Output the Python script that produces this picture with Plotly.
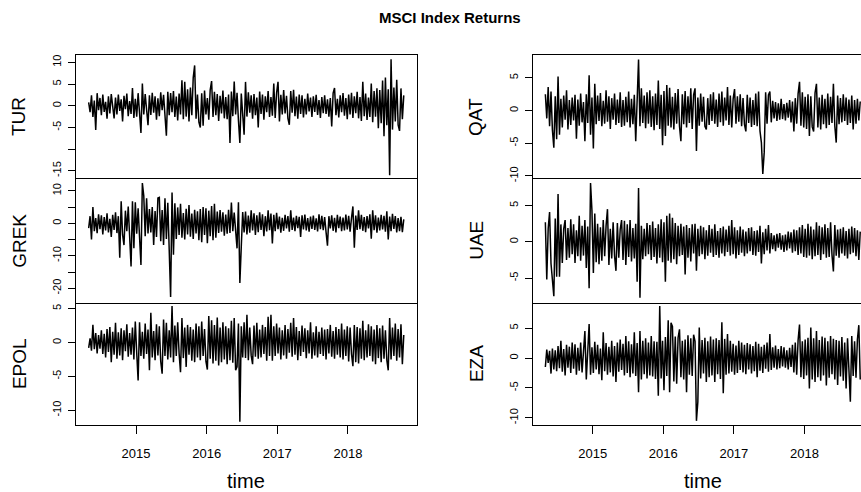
import numpy as np
import plotly.graph_objects as go

# ---- time index (ts-like: start year, samples per year) ----
START = 2014.33
FREQ = 50

TUR = [0.8, -1.5, 2.4, -2.6, 1.2, -5.6, 2.9, -1.0, 1.8, -2.2,
       2.6, -1.4, 0.9, -3.0, 2.2, -1.8, 2.7, -0.6, -2.9, 1.9,
       -2.0, 2.6, -1.2, 1.5, -3.6, 2.3, -0.8, 2.8, -2.4, 1.1,
       -1.9, 4.1, -2.8, 1.6, -2.5, 2.9, -1.1, -6.3, 5.1, -2.0,
       2.7, -1.3, -4.5, 2.4, -2.1, 3.0, -1.6, 2.2, -3.2, 1.7,
       -2.4, 3.1, -1.0, 2.5, -2.8, -6.9, 3.2, -2.2, 2.9, -1.5,
       3.4, -2.6, 2.1, -3.4, 2.8, -2.0, 5.9, -3.1, 5.5, -2.5,
       3.8, -3.6, 4.2, -2.2, 6.5, 9.3, -3.0, 2.6, -3.8, -5.0,
       2.9, -4.6, 3.5, -2.0, 1.8, -3.2, 3.6, 5.7, -2.6, 3.2,
       -2.2, 2.7, -3.5, 2.3, -1.8, 3.5, -2.9, 2.0, -3.1, 2.6,
       -8.6, 3.3, -2.4, 5.6, -2.0, 3.0, -3.4, -8.6, 2.8, -2.1,
       -6.7, 5.5, -2.5, 3.1, -1.6, 2.4, -3.0, 2.7, -2.2, 1.9,
       -5.0, 3.3, -1.9, 2.6, -3.2, 2.2, -1.5, 3.4, -2.6, 2.0,
       -2.3, 5.1, -2.8, 3.0, 5.5, -3.6, 2.5, -2.0, 3.6, -1.8,
       2.3, -2.9, -4.4, 3.4, -1.6, 3.7, -2.4, 2.1, -3.0, 2.6,
       -1.9, 2.4, -2.7, 1.6, -2.0, 2.8, -1.3, 1.9, -2.6, 2.2,
       -1.4, 2.5, -2.1, 1.3, -2.8, 2.0, -1.7, 2.4, -1.9, 1.5,
       -2.5, 1.8, -4.8, 2.9, 4.1, -2.2, 1.6, -2.7, 2.4, -1.5,
       2.9, -2.3, 1.8, -3.1, 2.6, -2.0, 3.0, -2.8, 2.2, -1.7,
       3.2, -2.9, 2.0, -3.5, 5.5, -2.4, 2.8, -3.3, 1.9, -2.6,
       5.1, -3.8, 3.4, -2.5, 4.0, -5.2, 3.6, -4.0, 5.8, -7.0,
       6.5, -4.5, 3.8, -16.0, 10.7, -5.5, 4.2, -3.6, 6.0, -4.4,
       -5.8, 4.0, -3.1, 2.4]

GREK = [-1.5, 2.2, -5.0, 5.0, -2.4, 1.6, -3.0, 2.8, -1.8, 2.5,
        -3.4, 1.9, -2.2, 3.1, -2.8, 1.4, -4.2, 2.6, -2.0, 3.4,
        -3.0, 2.2, -10.6, 6.8, -3.5, -6.7, 3.9, -2.4, 5.2, -4.6,
        -13.3, 6.8, -7.7, 6.5, -3.2, 4.6, -5.0, -12.8, 12.4, 8.5,
        -4.0, 7.7, -3.1, 4.4, -2.8, 5.0, -6.7, 3.8, -4.2, 7.8,
        8.0, -5.5, 4.1, -6.7, 7.7, -4.8, 6.3, -12.3, -22.7, 9.5,
        -9.7, 6.2, -4.8, 4.9, -3.6, 6.0, -4.4, 3.2, -5.0, 4.5,
        -3.4, 5.6, -4.1, 3.0, -4.8, 4.2, -3.1, 3.7, -5.2, 4.4,
        -5.8, 5.0, -3.6, 4.6, -6.1, 3.9, -4.0, 5.3, -5.2, 6.0,
        -4.4, 3.6, -3.0, 4.1, -2.6, 3.4, -3.8, 2.7, -3.2, 4.2,
        -3.0, 6.4, -2.4, 3.3, -4.1, -7.7, 6.5, -18.4, -7.2, 3.5,
        -2.8, 3.6, -3.4, 2.4, -2.9, 4.0, -2.2, 3.1, -3.6, 2.5,
        -2.7, 3.4, -2.0, 2.8, -4.0, 2.2, -2.5, 4.0, -2.1, 3.0,
        -6.2, 2.6, -2.4, 3.2, -1.8, 2.1, -2.9, 1.7, -2.3, 2.6,
        -1.6, 2.2, -2.6, 4.0, -2.0, 1.8, -2.4, 2.3, -1.5, 2.0,
        -4.2, 2.5, -1.9, 2.7, -2.2, 1.6, -2.6, 2.1, -1.7, 2.4,
        -2.0, 1.5, -2.5, 2.8, -1.8, 2.3, -2.1, 1.9, -2.7, -6.9,
        2.2, -1.6, 2.5, -2.3, 1.7, -2.8, 2.6, -1.5, 2.1, -2.4,
        1.8, -2.2, 2.7, -1.9, 2.3, -2.6, 1.6, 5.2, -7.5, 2.4,
        -2.0, 4.0, -1.8, 2.6, -2.3, 1.9, -2.7, 2.2, -1.6, 2.8,
        -4.7, 4.0, -2.1, 2.5, -2.9, 1.8, -2.2, 2.6, -1.9, 2.3,
        -2.6, 3.7, -5.0, 2.1, -2.4, 2.9, -1.7, 2.2, -2.8, 1.6,
        -2.4, 2.0, -2.7, 1.2]

EPOL = [-0.8, 0.6, -1.2, 2.6, -1.0, 1.4, -1.6, 1.1, -0.9, 1.8,
        -1.7, 1.3, -2.2, 2.0, -1.4, 2.3, -2.9, 1.6, -1.8, 2.9,
        -2.4, 1.5, -1.9, 2.1, -2.6, 1.8, -1.3, 2.7, -2.1, 1.4,
        -1.8, 2.2, -2.5, 3.1, -1.5, -5.6, 3.0, -2.0, 1.6, -2.4,
        2.8, -1.7, 1.9, -4.1, 4.4, -2.2, 1.7, -2.6, 2.7, -1.9,
        2.4, -2.8, -4.6, 3.4, -2.0, 2.9, -2.5, 1.8, -2.2, 5.4,
        -2.9, 2.5, -2.0, 3.0, -1.6, -4.4, 3.6, -2.3, 2.2, -3.6,
        2.6, -1.8, 2.3, -2.7, 1.9, -2.9, 2.8, -2.2, 2.4, -2.6,
        3.1, -2.0, 2.0, -2.8, -4.0, 3.9, -2.4, 3.3, -3.1, 2.6,
        -2.7, 3.7, -3.4, 2.2, -2.9, 3.0, -2.5, 2.4, -3.2, 2.1,
        -2.6, 3.2, -3.0, 3.6, -4.1, -3.6, 2.8, -11.7, 2.4, -2.2,
        3.0, -2.3, 4.1, -2.6, 2.2, -1.9, -3.2, 2.5, -2.1, 2.9,
        -2.4, 1.9, -2.2, 2.6, -1.7, 2.3, -2.7, 3.8, -2.0, 4.1,
        -2.7, 2.4, -2.0, 2.8, -1.6, 2.2, -2.5, 1.8, -1.9, 2.6,
        -2.4, 2.0, -1.5, 2.9, -2.1, 3.6, -1.8, 2.3, -2.6, 1.7,
        -2.0, 2.5, -1.4, 2.1, -2.3, 1.8, -1.6, 3.0, -2.4, 1.5,
        -1.9, 2.4, -2.2, 1.6, -1.7, 2.2, -2.0, 1.9, -2.5, 2.0,
        -1.6, 2.6, -2.1, 1.7, -2.4, 2.3, -1.8, 2.0, -2.2, 2.8,
        -2.5, 1.9, -2.0, 2.4, -2.8, 2.2, -1.7, -3.5, 2.6, -2.9,
        2.3, -3.1, 2.1, -2.4, 3.2, -2.6, 1.8, -2.2, 2.7, -2.0,
        2.4, -2.8, 1.9, -3.2, 2.6, -2.3, 2.1, -2.9, 2.5, -2.4,
        1.8, -2.6, -4.1, 3.6, -2.5, 2.2, -2.0, 2.8, -2.7, 2.0,
        -2.2, 2.7, -3.2, 1.1]

QAT = [2.5, -1.2, 3.6, -2.4, 2.9, -3.0, -5.7, 2.2, -4.4, 5.2,
       -3.7, 1.8, -2.6, 2.3, -1.4, 3.1, -2.9, 1.6, -2.2, 2.0,
       -1.5, 2.4, -4.3, 1.7, -2.3, 2.6, -1.8, 1.3, -4.7, 2.5,
       -1.9, 5.4, -3.7, 2.0, -5.8, 4.1, -2.1, 2.3, -1.6, 2.7,
       -2.4, 1.5, -2.0, 3.1, -1.7, 2.2, -2.8, 1.9, -1.4, 2.6,
       -2.2, 1.7, -1.9, 2.8, -2.5, 1.6, -2.3, 2.1, -1.8, 2.9,
       -2.6, 1.8, -2.1, 2.4, -4.7, 1.5, 7.8, -2.4, 3.4, -1.9,
       2.3, -2.7, 2.8, -2.0, 3.1, -2.5, 2.2, -3.0, 2.6, -2.2,
       4.6, -2.8, 2.4, -5.3, 3.0, -3.9, 3.9, -2.3, 3.5, -2.6,
       2.1, -2.9, 2.7, -2.0, 3.3, -2.4, -4.7, 2.5, -2.1, 3.0,
       -2.6, 2.2, -1.9, 3.4, -2.8, 2.4, 3.4, -6.2, 2.0, -2.3,
       2.6, -1.7, 2.1, -2.4, -2.9, 1.9, -2.2, 2.5, -1.6, 2.8,
       -2.0, 1.7, -2.5, 2.6, -1.8, 2.9, -2.3, 2.0, -1.5, 3.6,
       -2.2, 2.3, -2.6, 1.8, 3.3, -2.0, 2.2, -1.7, 2.5, -2.4,
       1.9, -2.1, -3.2, 2.4, -1.9, 2.0, -2.5, 1.6, -2.2, 2.6,
       -2.4, 2.9, -3.1, -4.9, -9.7, -6.4, 2.8, -2.0, 2.4, 2.9,
       -1.8, 1.5, -1.2, 1.3, -1.6, 1.1, -1.4, 1.8, -1.3, 1.0,
       -1.5, 1.2, -1.1, 1.6, -1.8, 1.4, -3.2, 1.9, -2.0, 2.6,
       4.4, -2.3, 2.8, -2.6, 2.1, -2.8, 2.5, -3.9, 2.2, -2.5,
       -3.2, 2.7, 4.1, -2.6, 2.0, -2.9, 2.4, -2.1, 1.8, -2.7,
       2.6, -2.2, 2.1, -1.9, 4.1, -2.4, -4.9, 2.3, -2.1, 1.9,
       -1.8, 2.5, -1.6, 2.0, -2.2, 1.7, -1.9, 2.3, -2.9, 1.6,
       -2.0, 1.8, -1.5, 1.4]

UAE = [2.7, -5.2, 1.8, 4.1, -3.0, -5.7, -7.5, 3.2, -4.8, 6.6,
       -4.8, 2.4, -2.9, 1.8, 3.0, -2.5, 1.9, -2.2, 3.1, -1.7,
       2.4, -2.9, 1.6, -2.0, 3.6, -2.6, 2.2, -1.9, 3.0, -3.6,
       2.1, -6.4, 8.1, 4.3, -4.3, 3.9, -2.8, 2.5, -3.1, 2.0,
       -2.6, 3.0, -2.0, 2.2, 4.5, -3.2, 1.8, -2.3, 2.7, -1.9,
       -4.0, 2.6, -2.2, 1.7, 3.0, -2.5, 2.9, -3.2, 2.4, -2.1,
       3.0, -2.7, 1.9, -2.3, 2.5, -5.5, 7.4, -7.7, 2.2, -2.4,
       1.8, -2.0, 2.6, -1.7, 2.3, -2.5, 2.8, -2.1, 1.9, -3.0,
       2.4, -2.2, 3.1, -2.8, 2.7, -5.5, 3.6, -2.6, 3.9, -2.9,
       3.3, -2.4, 2.6, -3.1, 2.2, -2.0, 2.5, -1.8, 2.1, -4.5,
       2.3, -2.2, 1.9, -2.7, 2.4, -1.6, 2.5, -4.0, 1.8, -2.0,
       2.2, -1.7, 2.0, -2.4, 1.6, -1.9, 2.3, -1.5, 1.8, -2.1,
       2.4, -1.8, 1.5, -2.2, 1.9, -1.6, 2.1, -2.0, 1.7, -1.4,
       2.2, -1.9, 3.0, -1.7, 2.0, -2.3, 1.6, -1.8, 2.1, -1.5,
       1.7, -2.0, 1.4, -1.6, 1.9, -1.3, 2.0, -1.8, 1.5, -1.9,
       1.6, -1.4, 2.2, -3.0, 1.3, -1.7, 1.8, -1.2, 2.3, -1.6,
       1.2, -1.0, 0.9, -1.3, 1.1, -0.8, 1.2, -1.1, 0.9, -1.4,
       1.0, -1.2, 1.4, -0.9, 1.3, -1.5, 1.7, -1.3, 1.6, -1.8,
       2.0, -1.6, 2.3, -2.1, 1.8, -2.2, 2.5, -1.9, 2.1, -2.4,
       1.7, -2.0, 2.7, -1.8, 2.2, -2.5, 2.0, -1.7, 2.4, -2.2,
       1.9, -2.1, 2.7, -1.8, -4.1, 2.3, -1.9, 1.7, -2.2, 1.8,
       -1.6, 2.0, -1.9, 1.5, -2.3, 1.8, -1.7, 2.1, -1.5, 1.9,
       -2.0, 1.6, -2.5, 1.4]

EZA = [-1.5, 1.4, -0.8, 1.2, -2.6, 1.6, -1.9, 1.3, -2.2, 2.0,
       -1.7, 2.9, -2.3, 1.5, -2.9, 2.2, -1.6, 1.9, -2.5, 2.6,
       -1.8, 2.3, -2.8, 1.7, -2.1, 2.6, -2.4, 1.9, 4.5, -3.6,
       2.4, 5.7, -2.8, 1.8, -2.5, 2.7, -1.9, 2.2, -2.7, 1.6,
       -3.7, 4.3, -2.2, 2.5, -2.8, 1.9, -2.4, 2.9, -3.1, 2.0,
       -4.0, 2.6, -2.3, 3.1, -2.0, 2.4, -2.9, 3.7, -2.5, 2.8,
       -3.2, 2.3, -2.6, 4.3, -3.0, 2.5, -5.7, 4.5, -3.6, 2.9,
       -2.7, 3.3, -3.4, 2.6, -2.9, 3.7, -3.1, 2.8, -3.5, 2.7,
       -6.3, 8.7, -3.4, 2.9, -5.4, 3.5, -3.0, 6.3, -5.7, 5.9,
       5.3, -3.9, 3.6, -4.3, 3.4, 4.8, -3.2, 2.9, -3.6, 3.1,
       -5.7, 3.8, -2.8, 3.3, -3.0, 3.9, 2.8, -10.5, -7.3, 5.1,
       -3.4, 3.0, -2.6, 3.4, -4.0, 2.8, -3.2, 3.6, -2.9, 3.1,
       -4.0, 3.3, -2.7, 3.0, -3.5, 6.0, -5.9, 3.2, -2.8, 4.0,
       -2.6, 2.9, -2.3, 2.4, -2.8, 2.1, -2.5, 2.9, -2.0, 2.6,
       -2.4, 2.2, -2.7, 2.5, -1.9, 2.3, -2.6, 2.0, -2.2, 2.7,
       -3.2, 2.4, -2.1, 1.9, -2.5, 2.2, -1.8, 2.6, -2.3, 4.0,
       -2.0, 1.8, -1.6, 2.1, -1.9, 1.5, -1.7, 2.0, -1.4, 1.8,
       -1.6, 1.3, -1.9, 1.7, -1.5, 2.2, -2.4, 2.6, -2.8, 3.0,
       5.6, -3.2, 2.8, -3.5, 3.1, -2.9, 3.4, -5.1, 5.1, -3.6,
       3.3, -4.0, 4.5, -3.2, 3.0, -3.8, 3.6, -2.9, 3.4, -4.6,
       2.8, -3.3, 3.7, -2.7, 3.2, -3.6, 3.0, -4.5, 2.9, -3.1,
       3.5, -3.8, 2.6, -5.1, 3.3, -3.4, -7.3, 3.7, -3.0, 2.8,
       -3.3, 3.1, 5.5, -3.6]

NAMES = ["TUR", "GREK", "EPOL", "QAT", "UAE", "EZA"]
SERIES = [TUR, GREK, EPOL, QAT, UAE, EZA]
YRANGES = [[-16.7, 11.6], [-24.5, 13.9], [-12.13, 5.85],
           [-10.35, 8.44], [-8.42, 8.77], [-11.14, 9.22]]
YTICKS = [[-15, -10, -5, 0, 5, 10], [-20, -15, -10, -5, 0, 5, 10], [-10, -5, 0, 5],
          [-10, -5, 0, 5], [-5, 0, 5], [-10, -5, 0, 5]]
YTICKTEXT = [["-15", "", "-5", "0", "5", "10"],
             ["-20", "", "-10", "", "0", "", "10"],
             ["-10", "-5", "0", "5"], ["-10", "-5", "0", "5"],
             ["-5", "0", "5"], ["-10", "-5", "0", "5"]]
XTICKS = [2015, 2016, 2017, 2018]

W, H = 861, 492
FONT = "Liberation Sans, Arial, Helvetica, sans-serif"

def px_x(p):
    return p / W

def px_y(p):
    return 1 - p / H

# panel pixel geometry
COLS = [(76.3, 416.5), (533.0, 861.0)]
ROWS = [(55.0, 179.0), (179.0, 305.0), (305.0, 428.0)]
XR = [[2014.155, 2018.97], [2014.155, 2014.155 + (861 - 533) / 70.6]]

fig = go.Figure()
for k, (name, vals) in enumerate(zip(NAMES, SERIES)):
    col, row = k // 3, k % 3
    n = len(vals)
    t = START + np.arange(n) / FREQ
    ax = "" if k == 0 else str(k + 1)
    fig.add_trace(go.Scatter(x=t, y=vals, mode="lines",
                             line=dict(color="black", width=1.5),
                             xaxis="x" + ax, yaxis="y" + ax,
                             hoverinfo="skip", showlegend=False))
    bottom = row == 2
    xd = [px_x(COLS[col][0]), min(1.0, px_x(COLS[col][1]))]
    yd = [px_y(ROWS[row][1]), px_y(ROWS[row][0])]
    fig.layout["xaxis" + ax] = dict(
        domain=xd, range=XR[col], anchor="y" + ax,
        showline=True, linecolor="black", linewidth=1, mirror=(row == 0),
        showgrid=False, zeroline=False,
        ticks="outside" if bottom else "", ticklen=8, tickcolor="black",
        tickvals=XTICKS, ticktext=[str(v) for v in XTICKS],
        showticklabels=bottom, tickfont=dict(family=FONT, size=13, color="black"),
        ticklabelstandoff=9)
    fig.layout["yaxis" + ax] = dict(
        domain=yd, range=YRANGES[k], anchor="x" + ax,
        showline=True, linecolor="black", linewidth=1, mirror=(col == 0),
        showgrid=False, zeroline=False,
        ticks="outside", ticklen=7, tickcolor="black",
        tickvals=YTICKS[k], ticktext=YTICKTEXT[k], tickangle=-90,
        tickfont=dict(family=FONT, size=11, color="black"),
        ticklabelstandoff=3)
    # y label
    fig.add_annotation(text=name, textangle=-90, showarrow=False,
                       xref="paper", yref="paper",
                       x=px_x(19.3 + 457 * col), y=px_y((ROWS[row][0] + ROWS[row][1]) / 2),
                       xanchor="center", yanchor="middle",
                       font=dict(family=FONT, size=19, color="black"))

# x labels
for col in range(2):
    fig.add_annotation(text="time", showarrow=False, xref="paper", yref="paper",
                       x=px_x((COLS[col][0] + COLS[col][0] + 340.2) / 2), y=px_y(485),
                       xanchor="center", yanchor="middle",
                       font=dict(family=FONT, size=20, color="black"))

fig.add_annotation(text="<b>MSCI Index Returns</b>", showarrow=False,
                   xref="paper", yref="paper", x=px_x(450), y=px_y(17.0),
                   xanchor="center", yanchor="middle",
                   font=dict(family=FONT, size=15, color="black"))

fig.update_layout(width=W, height=H, margin=dict(l=0, r=0, t=0, b=0),
                  paper_bgcolor="white", plot_bgcolor="white", showlegend=False)

fig.write_html("out.html")
